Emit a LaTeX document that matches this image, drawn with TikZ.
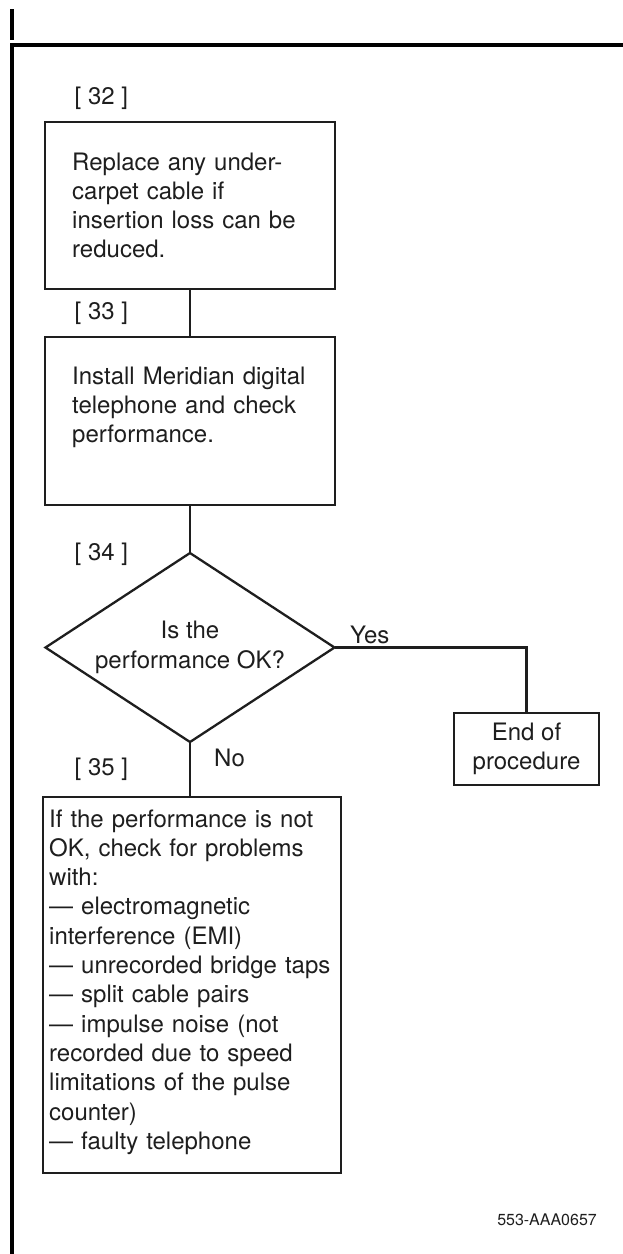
\documentclass[tikz,border=0pt]{standalone}
\usepackage{fontspec}
\setmainfont{TeX Gyre Heros}
\usetikzlibrary{shapes.geometric}
\definecolor{ink}{RGB}{30,30,30}
\begin{document}
\begin{tikzpicture}[x=1pt,y=-1pt,
  every node/.style={font=\fontsize{24}{29.3}\selectfont, text=ink},
  box/.style={draw=ink, line width=2.3pt, rectangle, inner sep=0pt, outer sep=0pt, anchor=north west},
  body/.style={inner sep=0pt, anchor=base west, align=left, text width=#1},
  tag/.style={inner sep=0pt, anchor=base west},
  conn/.style={draw=ink, line width=2.3pt},
  frame/.style={draw=black, line width=4pt}]
\useasboundingbox (0,0) rectangle (623,1254);
% frame
\coordinate (f0) at (11.5,9);
\coordinate (f1) at (11.5,40);
\draw[frame] (f0) -- (f1);
\coordinate (c1) at (623,45);
\coordinate (c2) at (11.5,45);
\coordinate (c3) at (11.5,1254);
\draw[frame] (c1) -- (c2) -- (c3);
% boxes
\node[box, minimum width=290pt, minimum height=167pt] (b32) at (45,122) {};
\node[box, minimum width=290pt, minimum height=168pt] (b33) at (45,337) {};
\node[draw=ink, line width=2.3pt, diamond, aspect=1.53, minimum width=289pt, minimum height=189pt, inner sep=0pt, outer sep=0pt, align=center] (d34) at (190,647.5) {Is the\\performance OK?};
\node[box, minimum width=298pt, minimum height=376pt] (b35) at (43,797) {};
\node[box, minimum width=145pt, minimum height=72pt, align=center] (endp) at (454,713) {End of\\procedure};
% labels
\node[tag] (l32) at (74.5,104.5) {[ 32 ]};
\node[tag] (l33) at (74.5,319.5) {[ 33 ]};
\node[tag] (l34) at (74.5,560.5) {[ 34 ]};
\node[tag] (l35) at (74.5,775.5) {[ 35 ]};
% texts
\node[body=260pt] (t32) at (72,170) {Replace any under-\\carpet cable if\\insertion loss can be\\reduced.};
\node[body=260pt] (t33) at (72,384) {Install Meridian digital\\telephone and check\\performance.};
\node[body=292pt] (t35) at (49,827) {If the performance is not\\OK, check for problems\\with:\\--- electromagnetic\\interference (EMI)\\--- unrecorded bridge taps\\--- split cable pairs\\--- impulse noise (not\\recorded due to speed\\limitations of the pulse\\counter)\\--- faulty telephone};
% connectors
\draw[conn] (b32.south) -- (b33.north);
\draw[conn] (b33.south) -- (d34.north);
\draw[conn] (d34.south) -- (d34.south |- b35.north);
\draw[conn] (d34.east) -| (endp.north);
\node[tag] (yes) at (350,643.5) {Yes};
\node[tag] (no) at (214,766.5) {No};
\node[anchor=base east, inner sep=0pt, font=\fontsize{16}{19}\selectfont] (id) at (597,1225) {553-AAA0657};
\end{tikzpicture}
\end{document}
